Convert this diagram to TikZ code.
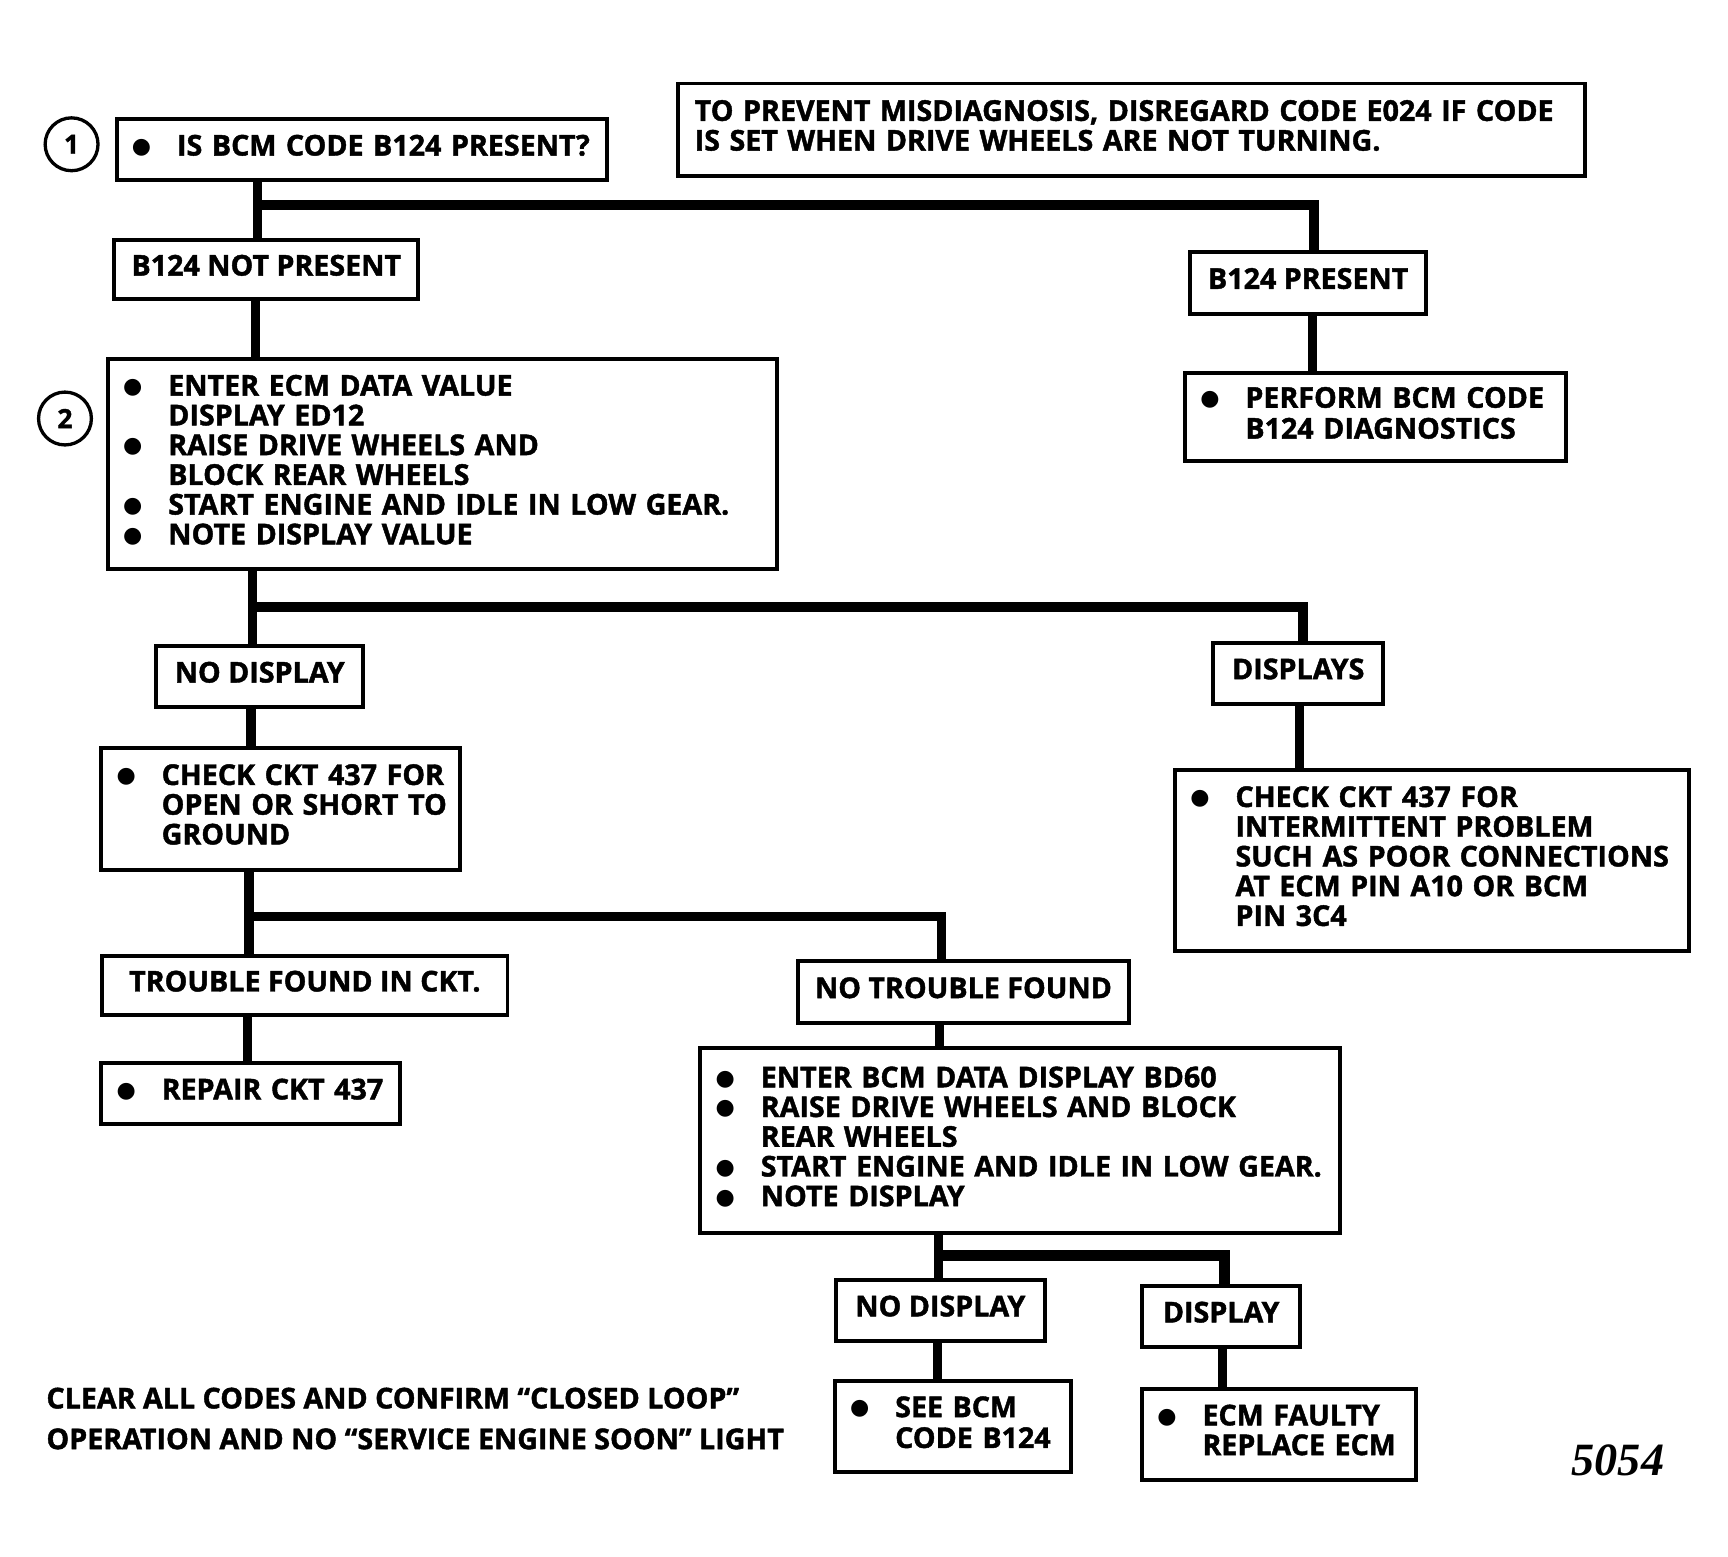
\documentclass[tikz,border=0pt]{standalone}
\usepackage{fontspec}
\setmainfont{Open Sans}[BoldFeatures={FakeBold=1.5}]
\newfontfamily\dejavu{DejaVu Sans}
\newfontfamily\numfont{Liberation Serif}
\newcommand\bu{\makebox[40pt][l]{\hspace{-1pt}\raisebox{2pt}{\dejavu\fontsize{20}{20}\selectfont ●}}}
\newcommand\ind{\hspace*{40pt}}
\newcommand\lin[1]{\mbox{#1}}
\newcommand\dn{\rule[-8pt]{0pt}{8pt}}
\tikzset{
  bx/.style={draw, line width=3.6pt, anchor=north west, inner xsep=15pt, inner ysep=0pt,
    font=\bfseries\fontsize{26}{27}\selectfont, align=left, execute at end node=\dn},
  cbx/.style={bx, align=center},
  conn/.style={line width=8.5pt},
  num/.style={circle, draw, line width=3pt, minimum size=48pt, inner sep=0pt,
    font=\bfseries\fontsize{24}{24}\selectfont},
}
\begin{document}
\begin{tikzpicture}[x=1pt,y=-1pt]
\useasboundingbox (0,0) rectangle (1569,1413.7);

% circles
\node[num] (c1) at (65,131) {1};
\node[num] (c2) at (59,380) {2};

% boxes
\node[bx, minimum width=445pt, minimum height=56pt, text width=415pt] (A) at (104,106)
  {\lin{\bu IS BCM CODE B124 PRESENT?}};
\node[bx, minimum width=823pt, minimum height=84pt, text width=793pt] (note) at (614,74)
  {\lin{TO PREVENT MISDIAGNOSIS, DISREGARD CODE E024 IF CODE}\\\lin{IS SET WHEN DRIVE WHEELS ARE NOT TURNING.}};
\node[cbx, minimum width=276pt, minimum height=54pt] (NP) at (102,216)
  {B124 NOT PRESENT};
\node[cbx, minimum width=214pt, minimum height=56pt] (P) at (1079,227)
  {B124 PRESENT};
\node[bx, minimum width=346pt, minimum height=80pt, text width=316pt,
  font=\bfseries\fontsize{26}{28}\selectfont] (perf) at (1074,337)
  {\lin{\bu PERFORM BCM CODE}\\\lin{\ind B124 DIAGNOSTICS}};
\node[bx, minimum width=608pt, minimum height=191pt, text width=578pt] (B2) at (96,324)
  {\lin{\bu ENTER ECM DATA VALUE}\\\lin{\ind DISPLAY ED12}\\\lin{\bu RAISE DRIVE WHEELS AND}\\\lin{\ind BLOCK REAR WHEELS}\\\lin{\bu START ENGINE AND IDLE IN LOW GEAR.}\\\lin{\bu NOTE DISPLAY VALUE}};
\node[cbx, minimum width=188pt, minimum height=55pt] (ND1) at (140,585)
  {NO DISPLAY};
\node[cbx, minimum width=154pt, minimum height=55pt] (DS) at (1100,582)
  {DISPLAYS};
\node[bx, minimum width=326pt, minimum height=111pt, text width=296pt] (CK1) at (90,677)
  {\lin{\bu CHECK CKT 437 FOR}\\\lin{\ind OPEN OR SHORT TO}\\\lin{\ind GROUND}};
\node[bx, minimum width=467pt, minimum height=165pt, text width=437pt] (CK2) at (1065,697)
  {\lin{\bu CHECK CKT 437 FOR}\\\lin{\ind INTERMITTENT PROBLEM}\\\lin{\ind SUCH AS POOR CONNECTIONS}\\\lin{\ind AT ECM PIN A10 OR BCM}\\\lin{\ind PIN 3C4}};
\node[cbx, minimum width=368pt, minimum height=54pt] (TF) at (91,866)
  {TROUBLE FOUND IN CKT.};
\node[cbx, minimum width=300pt, minimum height=56pt] (NTF) at (723,871)
  {NO TROUBLE FOUND};
\node[bx, minimum width=271pt, minimum height=56pt, text width=241pt] (REP) at (90,963)
  {\lin{\bu REPAIR CKT 437}};
\node[bx, minimum width=581pt, minimum height=168pt, text width=551pt] (B3) at (634,950)
  {\lin{\bu ENTER BCM DATA DISPLAY BD60}\\\lin{\bu RAISE DRIVE WHEELS AND BLOCK}\\\lin{\ind REAR WHEELS}\\\lin{\bu START ENGINE AND IDLE IN LOW GEAR.}\\\lin{\bu NOTE DISPLAY}};
\node[cbx, minimum width=190pt, minimum height=56pt] (ND2) at (757,1160)
  {NO DISPLAY};
\node[cbx, minimum width=144pt, minimum height=55pt] (D2) at (1035,1166)
  {DISPLAY};
\node[bx, minimum width=215pt, minimum height=83pt, text width=185pt,
  font=\bfseries\fontsize{26}{28}\selectfont] (SEE) at (756,1252)
  {\lin{\bu SEE BCM}\\\lin{\ind CODE B124}};
\node[bx, minimum width=249pt, minimum height=83pt, text width=219pt] (ECM) at (1035,1259)
  {\lin{\bu ECM FAULTY}\\\lin{\ind REPLACE ECM}};

% free texts
\node[anchor=west, align=left, inner sep=0pt, font=\bfseries\fontsize{26}{37}\selectfont] (clr) at (42,1288)
  {CLEAR ALL CODES AND CONFIRM “CLOSED LOOP”\\OPERATION AND NO “SERVICE ENGINE SOON” LIGHT};
\node[inner sep=0pt, font=\numfont\bfseries\itshape\fontsize{42}{42}\selectfont] (code) at (1469,1326) {5054};

% connectors
\coordinate (j1) at (234,186);  \coordinate (k1) at (1193,186);
\draw[conn] (A.south -| j1) -- (NP.north -| j1);
\draw[conn] (j1) -- (k1) -- (P.north -| k1);
\coordinate (u1) at (232,0);
\draw[conn] (NP.south -| u1) -- (B2.north -| u1);
\coordinate (u2) at (1192,0);
\draw[conn] (P.south -| u2) -- (perf.north -| u2);

\coordinate (j2) at (229,551);  \coordinate (k2) at (1183,551);
\draw[conn] (B2.south -| j2) -- (ND1.north -| j2);
\draw[conn] (j2) -- (k2) -- (DS.north -| k2);
\coordinate (u3) at (228,0);
\draw[conn] (ND1.south -| u3) -- (CK1.north -| u3);
\coordinate (u4) at (1180,0);
\draw[conn] (DS.south -| u4) -- (CK2.north -| u4);

\coordinate (j3) at (226,832);  \coordinate (k3) at (855,832);
\draw[conn] (CK1.south -| j3) -- (TF.north -| j3);
\draw[conn] (j3) -- (k3) -- (NTF.north -| k3);
\coordinate (u5) at (225,0);
\draw[conn] (TF.south -| u5) -- (REP.north -| u5);
\coordinate (u6) at (853,0);
\draw[conn] (NTF.south -| u6) -- (B3.north -| u6);

\coordinate (j4) at (852,1140);  \coordinate (k4) at (1112,1140);
\draw[conn] (B3.south -| j4) -- (ND2.north -| j4);
\draw[conn, line width=10pt] (j4) -- (k4) -- (D2.north -| k4);
\coordinate (u7) at (851,0);
\draw[conn] (ND2.south -| u7) -- (SEE.north -| u7);
\coordinate (u8) at (1110,0);
\draw[conn] (D2.south -| u8) -- (ECM.north -| u8);
\end{tikzpicture}
\end{document}
